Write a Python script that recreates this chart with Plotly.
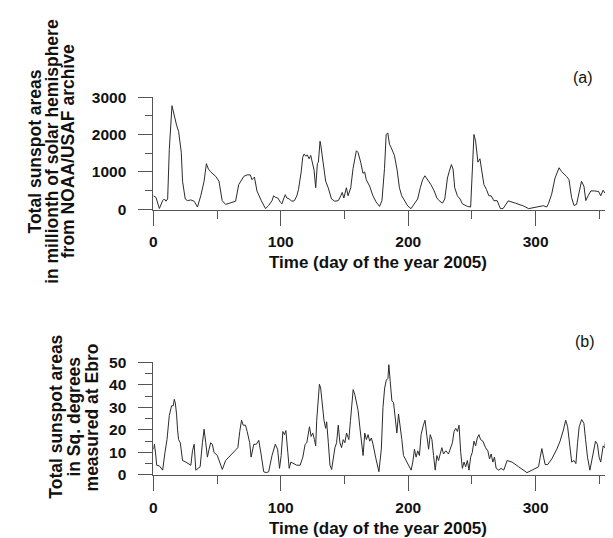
import plotly.graph_objects as go

W, H = 613, 538

# ---- Panel (a): NOAA/USAF total sunspot areas (millionths of solar hemisphere)
day_a = [0, 2, 4.7, 7.3, 8.6, 9.9, 11.2, 12.5, 14.6, 16.4, 18.2, 19.8, 20.8, 21.9, 22.9, 23.7,
         25, 26.8, 29.4, 32, 34.6, 37.2, 39.8, 41.6, 43.2, 45, 48.9, 51.5, 54, 56.7, 64.5, 67,
         68.4, 71, 73.6, 76.1, 77.4, 79.3, 81.3, 82.7, 84.7, 88, 90.5, 93.1, 94.4, 95.7, 97.7,
         99.6, 100.9, 102.2, 103.5, 104.8, 106.6, 108.7, 110.7, 112.6, 113.9, 116, 117.2, 118.3,
         119.6, 120.9, 122.2, 123.5, 124.8, 126.1, 127.4, 128.7, 129.5, 130.8, 131.5, 132.6,
         134.1, 135.2, 137.2, 139.8, 142.4, 145.1, 147.1, 148.2, 149.5, 151.5, 152.8, 154.9,
         156.7, 159.3, 160.6, 162.7, 164.5, 165.8, 167.1, 169.7, 172.3, 174.9, 177.5, 179.4,
         181.4, 182.7, 184, 185.3, 186.6, 189.2, 191.3, 193.1, 194.9, 197, 199.6, 202.2, 204.8,
         207.4, 209.5, 211.3, 213.1, 215.2, 217.8, 220.4, 222.5, 224.3, 226.9, 228.7, 230.8,
         232.1, 233.9, 235.2, 236.5, 238.6, 240.7, 242.5, 246.4, 249, 250.3, 251.6, 252.9,
         254.7, 256.3, 258.1, 259.4, 261.4, 263.3, 265.1, 267.2, 269.8, 272.4, 274.4, 278.5,
         284.1, 290.6, 294.5, 298.4, 302.3, 306.1, 308.7, 310, 312.6, 315.2, 318.4, 320.4,
         324.3, 326.2, 328.2, 330.1, 332.1, 333.9, 336, 337.9, 339.4, 341.2, 343.3, 346.4,
         349.5, 351.1, 352.9, 354.7, 356.8, 358.6, 359.9, 361.5, 363.3]
area_a = [360, 320, 20, 230, 275, 215, 275, 1600, 2770, 2470, 2250, 2080, 1820, 1520, 750, 580,
          275, 230, 250, 215, 60, 360, 750, 1220, 1075, 1000, 880, 750, 230, 130, 215, 660,
          750, 880, 920, 920, 790, 860, 490, 360, 230, 17, 100, 230, 360, 320, 300,
          190, 146, 275, 390, 300, 275, 215, 230, 360, 530, 1000, 1390, 1480,
          1420, 1450, 1350, 1440, 1220, 1050, 576, 1220, 1260, 1820, 1690, 1440,
          1000, 750, 576, 275, 215, 230, 360, 450, 300, 576, 360, 576,
          1090, 1565, 1520, 1260, 960, 1000, 790, 620, 360, 190, 77, 230,
          1090, 2000, 2040, 1740, 1650, 1440, 1050, 576, 360, 240, 90, 17, 146,
          275, 576, 790, 895, 790, 660, 490, 300, 230, 165, 275, 835,
          1000, 1195, 1075, 576, 360, 275, 146, 77, 60, 920, 2000, 1820,
          1260, 1350, 920, 660, 530, 360, 360, 230, 230, 17, 17, 225,
          163, 86, 17, 43, 60, 95, 60, 146, 404, 834, 1110, 1006,
          877, 791, 318, 103, 129, 447, 748, 619, 232, 361, 490, 490,
          473, 361, 507, 421, 490, 387, 559, 361, 421]

# ---- Panel (b): Ebro total sunspot areas (square degrees)
day_b = [0, 0.8, 1.8, 2.6, 4.7, 6, 7.3, 9.1, 10.7, 12.5, 14.3, 15.6, 16.4, 17.2, 18.2, 19, 19.8,
         21.1, 22.9, 25.5, 27.3, 29.4, 30.7, 32, 33.3, 35.1, 36.7, 38.5, 39.8, 41.1, 42.4, 43.7,
         45, 46.3, 47.6, 50.2, 52.3, 54.1, 56.7, 60.6, 64.5, 66.3, 67.8, 69.2, 70.5, 72.3, 73.6,
         75.6, 76.7, 78.8, 80.8, 82.7, 84.5, 86.6, 88.6, 90.5, 93.1, 95.7, 97.5, 99, 100.3,
         101.6, 102.9, 104, 105.5, 106.6, 107.9, 110, 112.5, 115.2, 117.3, 119.1, 120.4, 121.7,
         122.5, 123.8, 125.1, 126.4, 127.4, 128.2, 129.5, 130.3, 131.3, 132.6, 133.9, 135.2,
         136, 137.3, 138.6, 139.9, 141.2, 142.5, 143.8, 145.1, 146.4, 147.7, 149, 150.3, 151.6,
         153.4, 154.7, 156, 156.8, 158.1, 159.4, 160.7, 162, 163.3, 164.6, 165.9, 167.2, 168.5,
         169.8, 171.1, 172.4, 174.4, 177, 178.9, 180.2, 181.5, 182.8, 184.1, 184.8, 185.9,
         187.2, 188.5, 189.8, 191.1, 192.4, 193.7, 195, 196.3, 198.4, 200.5, 202.3, 203.6,
         204.9, 206.2, 207.5, 208.8, 210.1, 211.9, 213.2, 214.7, 216, 217.3, 218.6, 219.9,
         221.2, 222.5, 223.8, 225.1, 226.4, 227.7, 229.5, 231.6, 233.4, 234.7, 236, 237.3,
         238.6, 239.9, 241.2, 242.5, 243.8, 245.1, 246.4, 247.7, 249, 250.3, 251.6, 252.9,
         254.2, 255.5, 256.8, 258.6, 260.7, 262.5, 263.8, 265.1, 266.4, 267.7, 269, 271.1,
         272.9, 275, 277.6, 281.5, 286.7, 293.2, 297.1, 302.3, 303.6, 304.9, 306.2, 307.5,
         309.5, 312.7, 316.6, 319.2, 321.8, 323.6, 325.1, 327, 328.3, 330.1, 331.6, 332.9,
         334.2, 336.1, 337.9, 339.2, 340.7, 342.6, 344.4, 346, 347, 348.5, 349.8, 351.1,
         352.2, 353, 354.3, 355.5, 356.8, 358.1, 359.4, 360.7, 362]
area_b = [11.4, 13.6, 9.3, 4.3, 4, 3.1, 2.1, 10, 15.7, 26.4, 30.7, 30.7, 33.6, 32, 27, 20, 15.7,
          14.3, 6.4, 5.7, 5, 4.3, 10.7, 13.6, 2.1, 3.1, 3.6, 14.3, 20.3, 14.3, 7.9, 11.4,
          14.3, 13.6, 10, 8.6, 5.7, 2.4, 6.4, 8.6, 10.7, 12.1, 19.3, 24.3, 22.1, 22.1, 19.3,
          14.3, 7.9, 13.6, 13.6, 15.4, 9.3, 1.4, 1, 1.4, 8.6, 13.6, 11.4, 2.9, 8.6,
          19.3, 17.9, 19.7, 10, 2.9, 5.7, 5, 4.3, 4.3, 7.9, 13.6, 14.3, 18.6,
          21.4, 17.1, 18.6, 15.7, 12.9, 24.3, 34.3, 40.3, 38.6, 31.4, 24.3, 20.7,
          23.6, 14.3, 4.3, 2.4, 8.6, 12.1, 14.3, 22.1, 14.3, 12.1, 15.7, 14.3, 18.6,
          15.7, 24.3, 34.3, 37.9, 35.7, 31.4, 28.6, 21.4, 14.3, 8.6, 18.6, 15.7, 17.9,
          15, 16.4, 13.6, 7.9, 1.4, 11.4, 30, 38.6, 42.1, 42.9, 49, 41.4,
          32.9, 32.1, 25.7, 18.6, 27.1, 22.1, 15.7, 8.6, 6.4, 4.3, 2.1, 5.7,
          11.4, 7.9, 10.7, 8.6, 17.9, 22.1, 24.3, 17.1, 11.4, 17.9, 15.7, 8.6,
          2.1, 8.6, 6.4, 9.3, 12.1, 9.3, 10.7, 9.3, 12.9, 14.3, 19.3, 20.7,
          19.3, 22.1, 10, 2.9, 5.7, 3.6, 6.4, 2.1, 7.9, 10, 15, 12.9,
          16.4, 17.9, 15.7, 15, 12.1, 10.7, 7.1, 9.3, 5.7, 7.9, 2.9, 2.1,
          2.9, 2.1, 6.4, 5.7, 3.6, 1, 2.1, 3.6, 7.9, 11.7, 7.9, 4.6,
          4.6, 7.1, 11.4, 15, 20, 24.3, 21.4, 11.4, 5.7, 6.4, 5, 14.3,
          21.4, 24.6, 22.9, 15.7, 7.9, 2.1, 7.1, 12.9, 15, 13.6, 7.9, 5.7,
          10, 12.9, 12.1, 18.6, 14.3, 18.9, 14.3, 11.4, 10.7]

x_major = [0, 100, 200, 300]
x_minor = [50, 150, 250, 350]
ya_major = [0, 1000, 2000, 3000]
ya_minor = [500, 1500, 2500]
yb_major = [0, 10, 20, 30, 40, 50]
yb_minor = [5, 15, 25, 35, 45]

x_title = "Time (day of the year 2005)"
ya_title = ["Total sunspot areas", "in millionth of solar hemisphere", "from NOAA/USAF archive"]
yb_title = ["Total sunspot areas", "in Sq. degrees", "measured at Ebro"]

FONT = "Liberation Sans, Arial, sans-serif"
AX = "#555555"
TXT = "#111111"

def py(px):
    return 1 - px / H

def px_x(px):
    return px / W

fig = go.Figure()
fig.add_trace(go.Scatter(x=day_a, y=area_a, mode="lines", xaxis="x", yaxis="y",
                         line=dict(color="#2b2b2b", width=1), showlegend=False))
fig.add_trace(go.Scatter(x=day_b, y=area_b, mode="lines", xaxis="x2", yaxis="y2",
                         line=dict(color="#2b2b2b", width=1), showlegend=False))

xdom = [142.3 / W, 1.0]
common_x = dict(domain=xdom, range=[0, 367], showline=True, linecolor=AX, linewidth=1,
                ticks="outside", ticklen=15, tickwidth=1, tickcolor=AX,
                tickmode="array", tickvals=x_major, ticktext=[str(v) for v in x_major],
                minor=dict(tickmode="array", tickvals=x_minor, ticks="outside", ticklen=8,
                           tickwidth=1, tickcolor=AX, showgrid=False),
                showgrid=False, zeroline=False, ticklabelstandoff=3,
                tickfont=dict(family=FONT, size=15.5, color=TXT, weight="bold"))
common_y = dict(showline=True, linecolor=AX, linewidth=1,
                ticks="outside", ticklen=14, tickwidth=1, tickcolor=AX,
                showgrid=False, zeroline=False, ticklabelstandoff=9,
                tickfont=dict(family=FONT, size=15.5, color=TXT, weight="bold"))

fig.update_layout(
    width=W, height=H, margin=dict(l=0, r=0, t=0, b=0),
    paper_bgcolor="white", plot_bgcolor="white",
    xaxis=dict(anchor="y", **common_x),
    xaxis2=dict(anchor="y2", **common_x),
    yaxis=dict(anchor="x", domain=[py(199), py(82.7)], range=[-12, 3000],
               tickmode="array", tickvals=ya_major, ticktext=[str(v) for v in ya_major],
               minor=dict(tickmode="array", tickvals=ya_minor, ticks="outside", ticklen=7,
                          tickwidth=1, tickcolor=AX, showgrid=False),
               **common_y),
    yaxis2=dict(anchor="x2", domain=[py(473.3), py(356.7)], range=[-0.2, 50],
                tickmode="array", tickvals=yb_major, ticktext=[str(v) for v in yb_major],
                minor=dict(tickmode="array", tickvals=yb_minor, ticks="outside", ticklen=7,
                           tickwidth=1, tickcolor=AX, showgrid=False),
                **common_y),
)

ann = []
tfont = dict(family=FONT, size=17, color=TXT, weight="bold")
for ycen in (253, 528):
    ann.append(dict(text=x_title, xref="paper", yref="paper", x=px_x(368), y=py(ycen),
                    xanchor="center", yanchor="middle", showarrow=False, font=tfont))
yfont = dict(family=FONT, size=17.5, color=TXT, weight="bold")
for txt, xc in zip(ya_title, (23, 39.5, 56)):
    ann.append(dict(text=txt, xref="paper", yref="paper", x=px_x(xc), y=py(139),
                    xanchor="center", yanchor="middle", textangle=-90, showarrow=False,
                    font=yfont))
for txt, xc in zip(yb_title, (44, 62, 80)):
    ann.append(dict(text=txt, xref="paper", yref="paper", x=px_x(xc), y=py(413),
                    xanchor="center", yanchor="middle", textangle=-90, showarrow=False,
                    font=yfont))
lfont = dict(family=FONT, size=16, color=TXT)
ann.append(dict(text="(a)", xref="paper", yref="paper", x=px_x(575), y=py(62.5),
                xanchor="center", yanchor="middle", showarrow=False, font=lfont))
ann.append(dict(text="(b)", xref="paper", yref="paper", x=px_x(577), y=py(335),
                xanchor="center", yanchor="middle", showarrow=False, font=lfont))
fig.update_layout(annotations=ann)

fig.write_html("out.html")
